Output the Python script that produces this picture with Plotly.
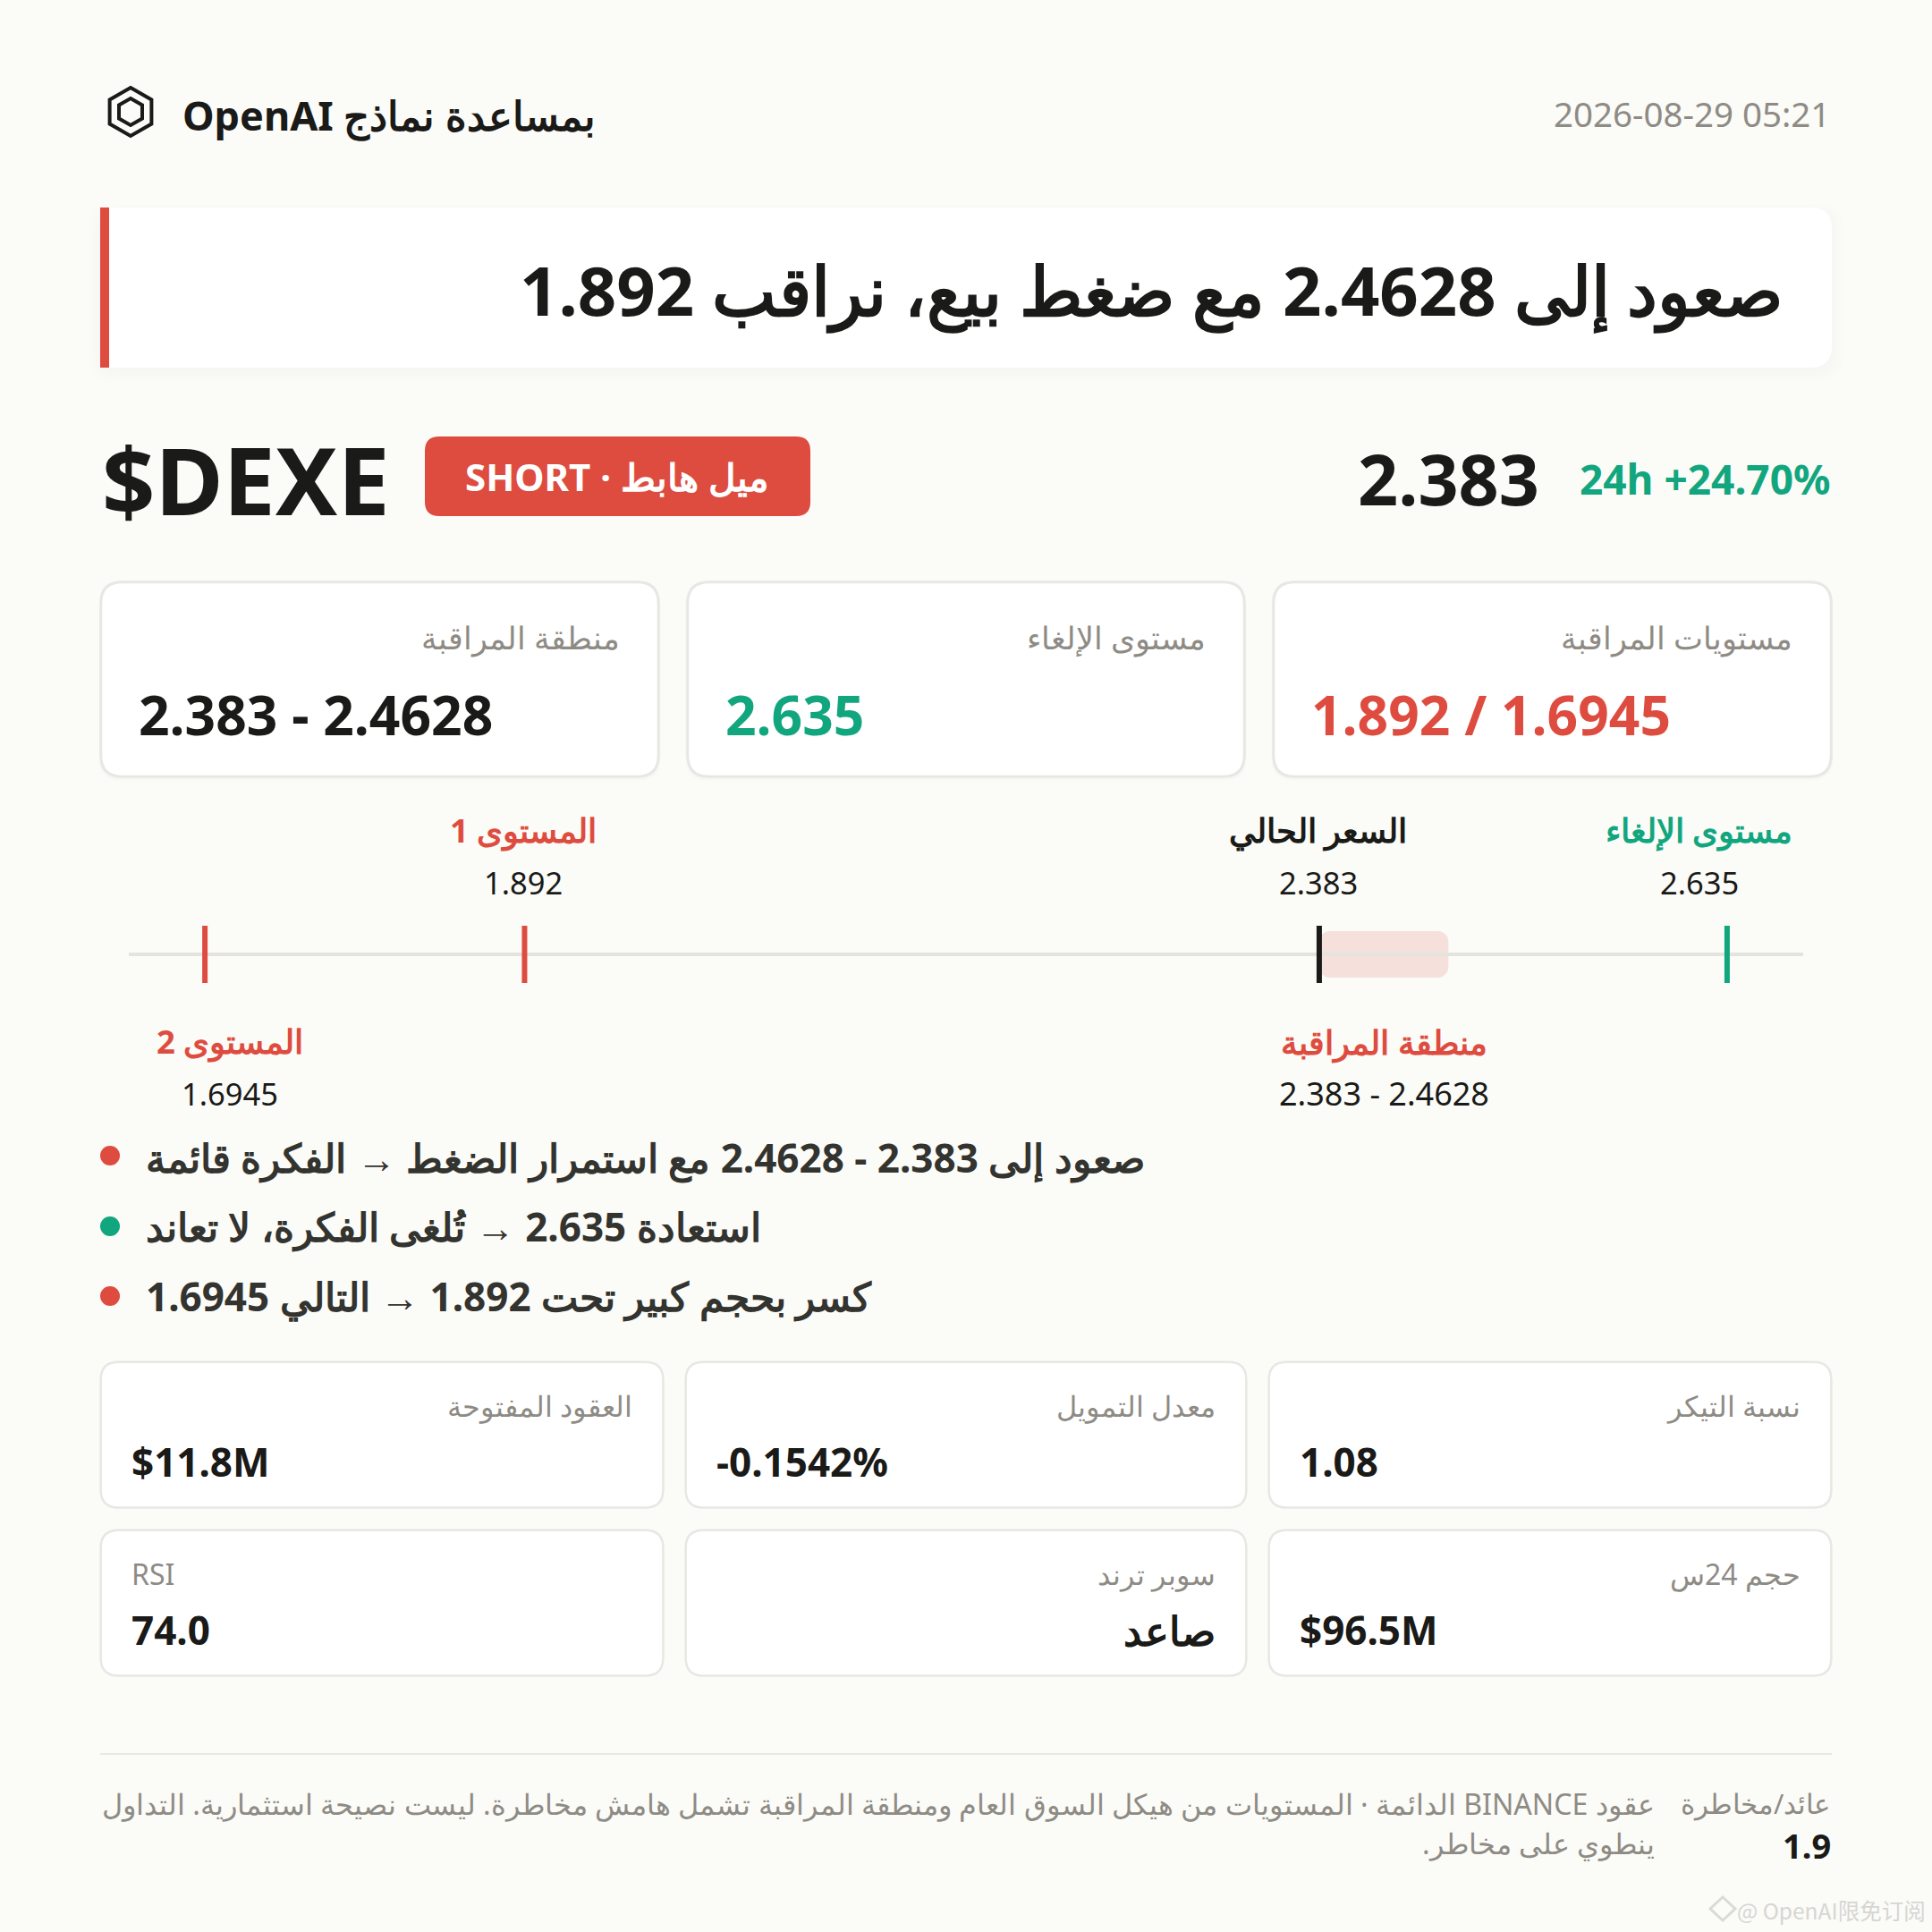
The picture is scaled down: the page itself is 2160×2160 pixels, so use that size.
import plotly.graph_objects as go

# 數值
level_names = ['المستوى 2', 'المستوى 1', 'السعر الحالي', 'مستوى الإلغاء']
level_prices = [1.6945, 1.892, 2.383, 2.635]
level_texts = ['1.6945', '1.892', '2.383', '2.635']
zone_low = 2.383
zone_high = 2.4628
zone_name = 'منطقة المراقبة'
zone_text = '2.383 - 2.4628'

top_labels = ['منطقة المراقبة', 'مستوى الإلغاء', 'مستويات المراقبة']
top_values = ['2.383 - 2.4628', '2.635', '1.892 / 1.6945']

metric_labels = ['العقود المفتوحة', 'معدل التمويل', 'نسبة التيكر', 'RSI', 'سوبر ترند', 'حجم 24س']
metric_values = ['$11.8M', '-0.1542%', '1.08', '74.0', 'صاعد', '$96.5M']

bullets = ['صعود إلى 2.383 - 2.4628 مع استمرار الضغط → الفكرة قائمة',
           'استعادة 2.635 → تُلغى الفكرة، لا تعاند',
           'كسر بحجم كبير تحت 1.892 → التالي 1.6945']

footer_lines = ['عقود BINANCE الدائمة · المستويات من هيكل السوق العام ومنطقة المراقبة تشمل هامش مخاطرة. ليست نصيحة استثمارية. التداول',
                'ينطوي على مخاطر.']

BG = '#FBFBF7'
INK = '#1A1A18'
RED = '#DE4C40'
GREEN = '#12A67F'
GREY = '#8E8B85'
BORDER = '#E8E7E3'
FONT = 'Noto Sans'


def rtl(s):
    # SVG 文字預設 LTR，混合拉丁字時要包起來
    return '\u202b' + s + '\u202c'


def rrect(x0, y0, x1, y1, r, rl=None):
    rl = r if rl is None else rl
    return (f'M{x0 + rl},{y0} L{x1 - r},{y0} Q{x1},{y0} {x1},{y0 + r} L{x1},{y1 - r} Q{x1},{y1} {x1 - r},{y1} '
            f'L{x0 + rl},{y1} Q{x0},{y1} {x0},{y1 - rl} L{x0},{y0 + rl} Q{x0},{y0} {x0 + rl},{y0} Z')


def hexagon(cx, cy, r):
    w = r * 0.866
    return (f'M{cx},{cy - r} L{cx + w},{cy - r / 2} L{cx + w},{cy + r / 2} L{cx},{cy + r} '
            f'L{cx - w},{cy + r / 2} L{cx - w},{cy - r / 2} Z')


shapes = []
notes = []


def box(x0, y0, x1, y1, r, fill='white', line=None, lw=0, rl=None):
    # 邊框大致畫在內側
    d = lw / 4
    shapes.append(dict(type='path', path=rrect(x0 + d, y0 + d, x1 - d, y1 - d, r, rl), fillcolor=fill, layer='below',
                       line=dict(color=line or fill, width=lw)))


def text(x, y, s, size, color=INK, anchor='left', weight=400, family=FONT, **kw):
    notes.append(dict(x=x, y=y, xref=kw.pop('xref', 'x'), yref='y', text=s, showarrow=False, xanchor=anchor,
                      yanchor='middle', align=anchor, borderpad=0,
                      font=dict(size=size, color=color, weight=weight, family=family), **kw))


# 頁首
shapes.append(dict(type='path', path=hexagon(146, 125, 27), line=dict(color=INK, width=4)))
shapes.append(dict(type='path', path=hexagon(146, 125, 15), line=dict(color=INK, width=4)))
text(203, 128, rtl('بمساعدة نماذج OpenAI'), 45, weight=700)
text(2047, 127, '2026-08-29 05:21', 38.5, GREY, 'right')

# 標題
for i in range(5):
    box(112 - i * 3, 232 + 4 - i * 2, 2048 + i * 3, 411 + 4 + i * 3, 24, 'rgba(0,0,0,0.004)')
box(112, 232, 2048, 411, 24, rl=0.01)
shapes.append(dict(type='rect', x0=112, x1=122, y0=232, y1=411, fillcolor=RED, line_width=0))
text(1995, 323, 'صعود إلى 2.4628 مع ضغط بيع، نراقب 1.892', 76, anchor='right', weight=700)

text(113, 535, '$DEXE', 104, weight=700)
box(475, 488, 906, 577, 16, RED)
text(690, 532, 'SHORT · ميل هابط', 42, 'white', 'center', 700)
text(1722, 534, level_texts[2], 79, anchor='right', weight=700)
text(2047, 535, '24h +24.70%', 46, GREEN, 'right', 700)

# 三張卡片
card_x = [(112, 737), (768, 1392), (1423, 2048)]
card_colors = [INK, GREEN, RED]
for (x0, x1), lab, val, col in zip(card_x, top_labels, top_values, card_colors):
    for i in range(3):
        box(x0 - i, 650 + 2, x1 + i, 869 + 2 + i, 24, 'rgba(0,0,0,0.008)')
    box(x0, 650, x1, 869, 24, 'white', BORDER, 3)
    text(x1 - 43, 712, lab, 35, GREY, 'right')
    text(x0 + 42, 798, val, 60.5, col, weight=700)

# 價格尺 (x2 = 價格軸)
span = level_prices[-1] - level_prices[0]
axis_lo = level_prices[0] - span * 0.05
axis_hi = level_prices[-1] + span * 0.05
tick_colors = [RED, RED, INK, GREEN]
name_colors = [RED, RED, INK, GREEN]
label_shift = [29, 0, 0, -30]
label_rows = [(1164, 1222), (928, 986), (928, 986), (928, 986)]

traces = [go.Scatter(x=[axis_lo, axis_hi], y=[1067, 1067], xaxis='x2', yaxis='y', mode='lines',
                     line=dict(color='#E4E3DE', width=4)),
          go.Bar(x=[zone_high - zone_low], base=[zone_low], y=[1067], width=[52], orientation='h', xaxis='x2',
                 yaxis='y', marker=dict(color='rgba(222,76,64,0.15)', cornerradius=12, line_width=0))]
for p, c in zip(level_prices, tick_colors):
    traces.append(go.Scatter(x=[p, p], y=[1035, 1099], xaxis='x2', yaxis='y', mode='lines',
                             line=dict(color=c, width=6)))

for name, p, txt, c, sh, (y1, y2) in zip(level_names, level_prices, level_texts, name_colors, label_shift, label_rows):
    text(p, y1, name, 36.5, c, 'center', 700, xref='x2', xshift=sh - 1)
    text(p, y2, txt, 34.5, INK, 'center', xref='x2', xshift=sh - 1)
zone_mid = (zone_low + zone_high) / 2
text(zone_mid, 1164, zone_name, 37, RED, 'center', 700, xref='x2')
text(zone_mid, 1222, zone_text, 36, INK, 'center', xref='x2')

# 條列
dot_colors = [RED, GREEN, RED]
dot_y = [1292, 1371, 1449]
text_y = [1294, 1371, 1449]
for s, c, dy, ty in zip(bullets, dot_colors, dot_y, text_y):
    shapes.append(dict(type='circle', x0=112, x1=134, y0=dy - 11, y1=dy + 11, fillcolor=c, line_width=0))
    text(162, ty, s, 44, '#33332F', weight=700)

# 指標卡片
metric_x = [(112, 742), (766, 1394), (1418, 2048)]
metric_y = [(1522, 1686), (1710, 1874)]
for i, (lab, val) in enumerate(zip(metric_labels, metric_values)):
    x0, x1 = metric_x[i % 3]
    y0, y1 = metric_y[i // 3]
    box(x0, y0, x1, y1, 20, 'white', BORDER, 2.5)
    if lab == 'RSI':
        text(x0 + 34, y0 + 49, lab, 32, GREY)
    else:
        text(x1 - 34, y0 + 49, lab, 32, GREY, 'right')
    if val == 'صاعد':
        text(x1 - 34, y0 + 112, val, 45, anchor='right', weight=700)
    else:
        text(x0 + 34, y0 + 112, val, 44, weight=700)

# 頁尾
shapes.append(dict(type='line', x0=112, x1=2048, y0=1961, y1=1961, line=dict(color=BORDER, width=2)))
text(2048, 2016, 'عائد/مخاطرة', 30.5, GREY, 'right')
text(2048, 2063, '1.9', 38, anchor='right', weight=700)
text(1851, 2016, rtl(footer_lines[0]), 32.1, GREY, 'right')
text(1851, 2060, rtl(footer_lines[1]), 32.1, GREY, 'right')

# 浮水印
shapes.append(dict(type='path', path='M1926,2121 L1940,2134 L1926,2147 L1912,2134 Z',
                   line=dict(color='#DADAD7', width=3)))
text(2154, 2135, '@ OpenAI限免订阅', 24.5, '#D6D6D3', 'right', family='Noto Sans CJK SC')

fig = go.Figure(data=traces)
fig.update_layout(
    width=2160, height=2160,
    margin=dict(l=0, r=0, t=0, b=0, pad=0),
    paper_bgcolor=BG, plot_bgcolor='rgba(0,0,0,0)',
    showlegend=False, hovermode=False,
    xaxis=dict(range=[0, 2160], domain=[0, 1], visible=False, fixedrange=True),
    xaxis2=dict(range=[axis_lo, axis_hi], domain=[144 / 2160, 2016 / 2160], anchor='y', visible=False, fixedrange=True),
    yaxis=dict(range=[2160, 0], domain=[0, 1], visible=False, fixedrange=True),
    shapes=shapes, annotations=notes,
)

fig.write_html('out.html', config=dict(displayModeBar=False),
               post_script="document.body.style.margin='0';document.body.style.background='#FBFBF7';")
